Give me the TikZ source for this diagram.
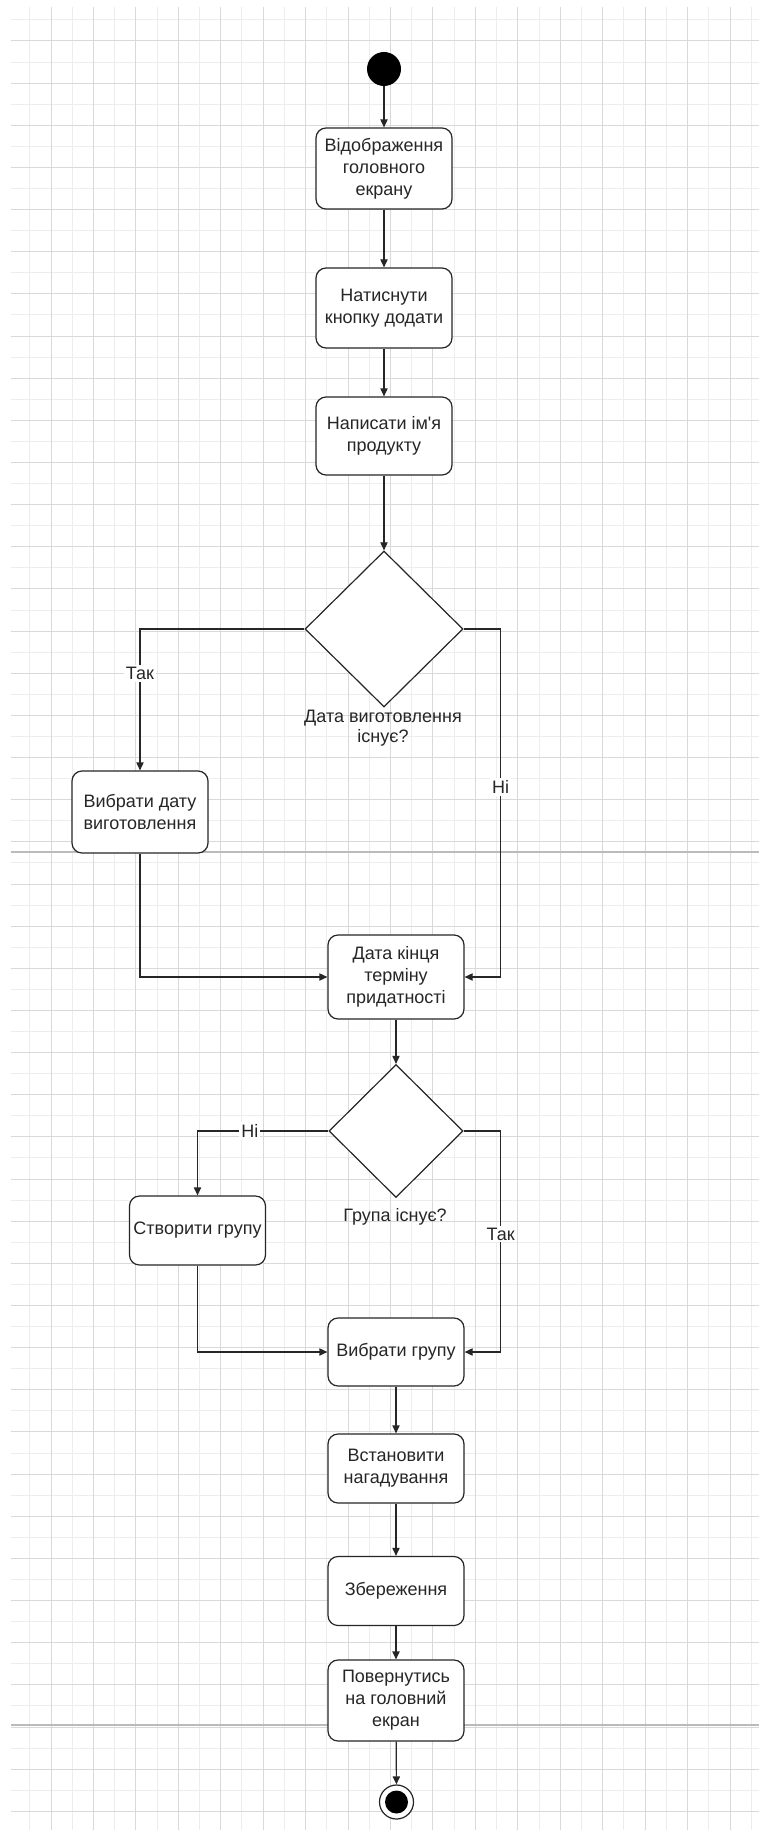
\documentclass[tikz,border=0pt]{standalone}
\usepackage{fontspec}
\newfontfamily\uafont{Liberation Sans}
\usetikzlibrary{shapes.geometric, arrows.meta}
\definecolor{ink}{HTML}{262626}
\definecolor{gridlight}{HTML}{EDEDED}
\definecolor{griddark}{HTML}{D9D9D9}
\definecolor{pagebreak}{HTML}{BBBBBB}
\tikzset{
  action/.style={draw=ink, line width=0.6pt, rounded corners=5pt, fill=white,
    minimum width=68pt, align=center, inner sep=0pt, text=ink,
    font=\uafont\fontsize{9}{11}\selectfont},
  decision/.style={diamond, draw=ink, line width=0.6pt, fill=white, inner sep=0pt},
  flow/.style={draw=ink, line width=0.6pt, -{Triangle[length=4pt,width=3.6pt]}},
  guard/.style={fill=white, inner sep=1pt, text=ink,
    font=\uafont\fontsize{9}{11}\selectfont},
  caption/.style={align=center, text=ink, inner sep=0pt,
    font=\uafont\fontsize{9}{10}\selectfont},
  gridminor/.style={draw=gridlight, line width=0.5pt},
  gridmajor/.style={draw=griddark, line width=0.5pt},
}
\begin{document}
\begin{tikzpicture}[x=0.5pt, y=-0.5pt]
\useasboundingbox (0,0) rectangle (759,1830);
\fill[white] (0,0) rectangle (759,1830);

% background grid
\begin{scope}
  \clip (11,7) rectangle (759,1830);
  \foreach \k in {0,...,17} \draw[gridminor] ({29.78+42.44*\k},7) -- ({29.78+42.44*\k},1830);
  \foreach \k in {0,...,43} \draw[gridminor] (11,{19.93+42.15*\k}) -- (759,{19.93+42.15*\k});
  \foreach \k in {0,...,18} \draw[gridmajor] ({8.56+42.44*\k},7) -- ({8.56+42.44*\k},1830);
  \foreach \k in {0,...,42} \draw[gridmajor] (11,{41+42.15*\k}) -- (759,{41+42.15*\k});
  \draw[pagebreak, line width=0.6pt] (11,852) -- (759,852);
  \draw[pagebreak, line width=0.6pt] (11,1725) -- (759,1725);
\end{scope}

% nodes
\node[circle, fill=black, minimum size=17pt, inner sep=0pt] (start) at (384,69) {};
\node[action, minimum height=40.5pt] (show) at (384,168.5) {Відображення\\головного\\екрану};
\node[action, minimum height=40pt] (press) at (384,308) {Натиснути\\кнопку додати};
\node[action, minimum height=39pt] (name) at (384,436) {Написати ім'я\\продукту};
\node[decision, minimum width=79pt, minimum height=78pt] (hasdate) at (384,629) {};
\node[caption] (hasdatetxt) at (383,728) {Дата виготовлення\\існує?};
\node[action, minimum height=41pt] (pickdate) at (140,812) {Вибрати дату\\виготовлення};
\node[action, minimum height=42pt] (expiry) at (396,977) {Дата кінця\\терміну\\придатності};
\node[decision, minimum width=67pt, minimum height=66.5pt] (hasgroup) at (396,1131) {};
\node[caption] (hasgrouptxt) at (395,1217) {Група існує?};
\node[action, minimum height=34.5pt] (newgroup) at (197.5,1230.5) {Створити групу};
\node[action, minimum height=34pt] (pickgroup) at (396,1352) {Вибрати групу};
\node[action, minimum height=34.5pt] (remind) at (396,1468.5) {Встановити\\нагадування};
\node[action, minimum height=34.5pt] (save) at (396,1591) {Збереження};
\node[action, minimum height=40.5pt] (back) at (396,1700.5) {Повернутись\\на головний\\екран};
\node[circle, draw=ink, line width=0.6pt, fill=white, minimum size=17pt, inner sep=0pt] (finish) at (396.5,1802) {};
\node[circle, fill=black, minimum size=11.5pt, inner sep=0pt] (finishdot) at (finish) {};

% connectors
\draw[flow] (start) -- (show);
\draw[flow] (show) -- (press);
\draw[flow] (press) -- (name);
\draw[flow] (name) -- (hasdate);
\draw[flow] (hasdate.west) -| node[guard, pos=0.658] {Так} (pickdate.north);
\draw[flow] (hasdate.east) -- ++(37,0) |- node[guard, pos=0.227] {Ні} (expiry.east);
\draw[flow] (pickdate.south) |- (expiry.west);
\draw[flow] (expiry) -- (hasgroup);
\draw[flow] (hasgroup.west) -| node[guard, pos=0.3] {Ні} (newgroup.north);
\draw[flow] (hasgroup.east) -- ++(37,0) |- node[guard, pos=0.233] {Так} (pickgroup.east);
\draw[flow] (newgroup.south) |- (pickgroup.west);
\draw[flow] (pickgroup) -- (remind);
\draw[flow] (remind) -- (save);
\draw[flow] (save) -- (back);
\draw[flow] (back) -- (finish);
\end{tikzpicture}
\end{document}
